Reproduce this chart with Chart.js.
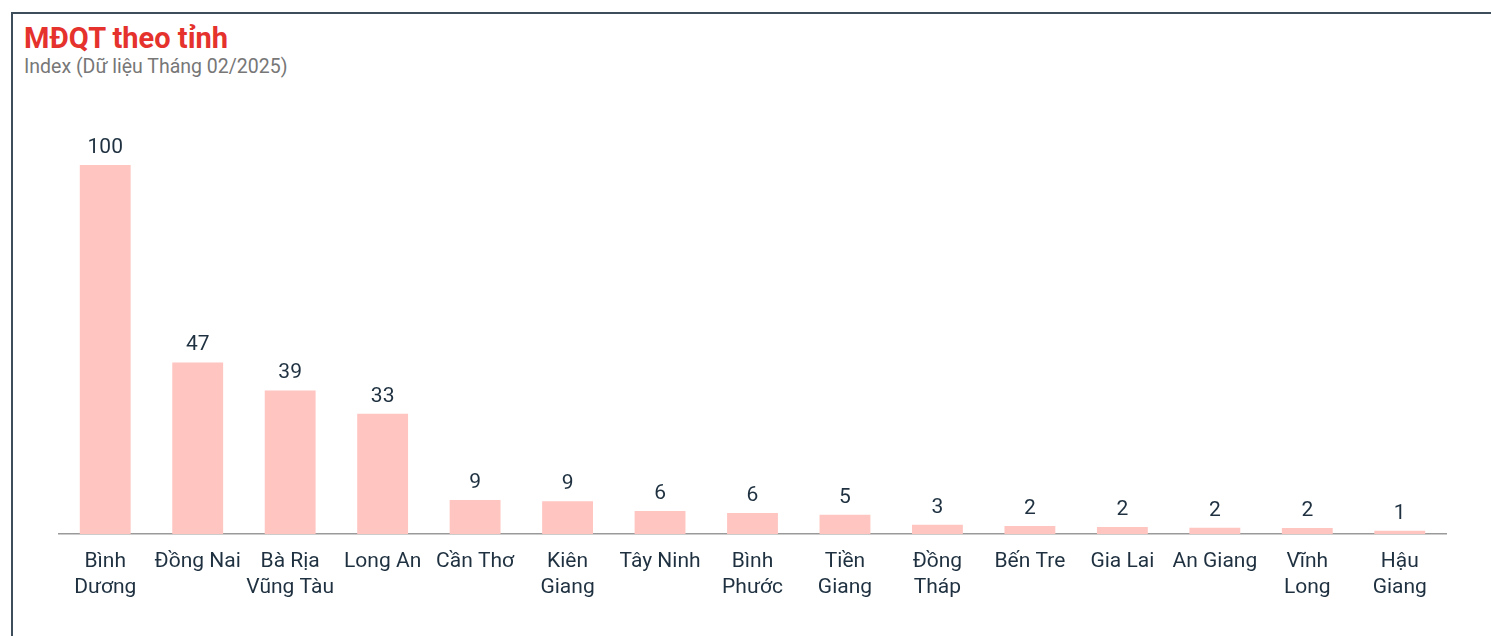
<!DOCTYPE html>
<html lang="vi">
<head>
<meta charset="utf-8">
<title>MĐQT theo tỉnh</title>
<script src="https://cdn.jsdelivr.net/npm/chart.js@4.4.1/dist/chart.umd.min.js"></script>
<style>
  html, body { margin: 0; padding: 0; background: #fff; overflow: hidden; }
  body { width: 1491px; height: 636px; position: relative; font-family: Roboto, "Noto Sans", sans-serif; }
  .khung { position: absolute; left: 11px; top: 12px; width: 1600px; height: 700px;
           border-left: 2px solid #3e4f5b; border-top: 2px solid #3e4f5b; }
  .tieu-de { position: absolute; left: 24px; top: 24px; font-size: 29px; line-height: 29px;
             font-weight: 700; color: #e5322d; white-space: nowrap; }
  .phu-de { position: absolute; left: 24px; top: 57px; font-size: 19.5px; line-height: 20px;
            color: #777; white-space: nowrap; }
  #bieu-do { position: absolute; left: 0; top: 0; }
</style>
</head>
<body>
<div class="khung"></div>
<div class="tieu-de">MĐQT theo tỉnh</div>
<div class="phu-de">Index (Dữ liệu Tháng 02/2025)</div>
<canvas id="bieu-do" width="1491" height="636"></canvas>

<script>
// Danh sách tỉnh (nhãn trục x, xuống dòng như ảnh gốc)
const tinh = [
  ["Bình", "Dương"], "Đồng Nai", ["Bà Rịa", "Vũng Tàu"], "Long An", "Cần Thơ",
  ["Kiên", "Giang"], "Tây Ninh", ["Bình", "Phước"], ["Tiền", "Giang"], ["Đồng", "Tháp"],
  "Bến Tre", "Gia Lai", "An Giang", ["Vĩnh", "Long"], ["Hậu", "Giang"]
];

// Chỉ số MĐQT (ước lượng theo chiều cao cột, nhãn hiển thị làm tròn)
const chiSo = [100, 46.5, 38.9, 32.6, 9.2, 8.9, 6.2, 5.7, 5.2, 2.5, 2.2, 1.9, 1.7, 1.6, 0.9];

const mauChu = "#1f3140";

// Ghi số lên đầu mỗi cột
const nhanGiaTri = {
  id: "nhanGiaTri",
  afterDatasetsDraw(chart) {
    const ctx = chart.ctx;
    const meta = chart.getDatasetMeta(0);
    ctx.save();
    ctx.font = "21px Roboto";
    ctx.fillStyle = mauChu;
    ctx.textAlign = "center";
    ctx.textBaseline = "alphabetic";
    meta.data.forEach((bar, i) => {
      ctx.fillText(String(Math.round(chiSo[i])), bar.x, bar.y - 12);
    });
    ctx.restore();
  }
};

const ctx = document.getElementById("bieu-do").getContext("2d");
new Chart(ctx, {
  type: "bar",
  data: {
    labels: tinh,
    datasets: [{
      data: chiSo,
      backgroundColor: "#ffc5c1",
      borderWidth: 0,
      categoryPercentage: 1,
      barPercentage: 0.55
    }]
  },
  options: {
    responsive: false,
    animation: false,
    layout: { padding: { left: 59, right: 45, top: 165, bottom: 20 } },
    plugins: {
      legend: { display: false },
      tooltip: { enabled: false }
    },
    scales: {
      x: {
        grid: { display: false, drawTicks: false },
        border: { display: true, color: "#9a9a9a", width: 1.5 },
        ticks: {
          color: mauChu,
          font: { family: "Roboto", size: 21, lineHeight: "26px" },
          padding: 15,
          maxRotation: 0,
          autoSkip: false
        }
      },
      y: {
        display: false,
        min: 0,
        max: 100
      }
    }
  },
  plugins: [nhanGiaTri]
});
</script>
</body>
</html>
